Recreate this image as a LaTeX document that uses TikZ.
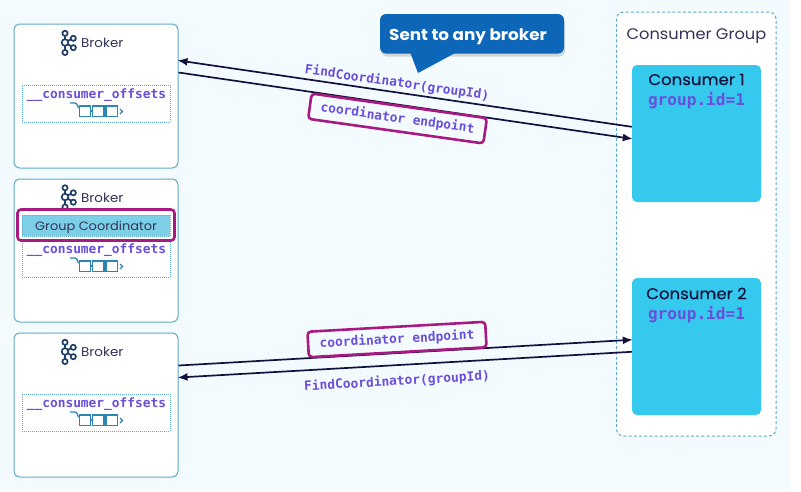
\documentclass[tikz,border=0pt]{standalone}
\usepackage{fontspec}
\setmainfont{Poppins}[FakeStretch=1.06]
\newfontfamily\heavyfont{Poppins}[FakeStretch=1.06,FakeBold=0.35]
\newfontfamily\codefont{DejaVu Sans Mono}
\usetikzlibrary{shadows,calc,arrows.meta}
\definecolor{pagebg}{HTML}{F4FBFF}
\definecolor{edge}{HTML}{5FA9C9}
\definecolor{iconblue}{HTML}{2B86B3}
\definecolor{logoblue}{HTML}{1F3F66}
\definecolor{inktxt}{HTML}{33335A}
\definecolor{navy}{HTML}{12123C}
\definecolor{violet}{HTML}{6A4FDC}
\definecolor{magentaedge}{HTML}{A81A82}
\definecolor{coordfill}{HTML}{7CCFE6}
\definecolor{consumerfill}{HTML}{36C9EE}
\definecolor{calloutblue}{HTML}{0E66B8}
\tikzset{
  x=1pt,y=-1pt,
  brokerbox/.style={draw=edge,line width=1pt,fill=white,rounded corners=6pt,minimum width=164pt,minimum height=144pt,inner sep=0pt},
  offsetbox/.style={draw=edge,line width=.7pt,dash pattern=on 1pt off 1pt,fill=white,minimum width=148pt,minimum height=37pt,inner sep=0pt},
  brokertxt/.style={text=inktxt,font=\fontsize{12.7}{14}\selectfont,inner sep=0pt},
  codetxt/.style={text=violet,font=\codefont\bfseries\fontsize{12.87}{14}\selectfont,inner sep=0pt},
  bigcode/.style={text=violet,font=\codefont\bfseries\fontsize{16.1}{18}\selectfont,inner sep=0pt},
  consumerbox/.style={fill=consumerfill,rounded corners=5pt,minimum width=129pt,minimum height=137pt,inner sep=0pt},
  consumertxt/.style={text=navy,font=\heavyfont\fontsize{15.6}{17}\selectfont,inner sep=0pt},
  highlight/.style={draw=magentaedge,line width=2.6pt,rounded corners=3.5pt,inner sep=0pt},
  flow/.style={draw=navy,line width=1.7pt},
  flowarrow/.style={flow,-{Latex[length=10pt,width=8pt]},shorten >=-1pt},
}
\newcommand{\kafkalogo}[2]{%
  \begin{scope}[shift={(#1,#2)},draw=logoblue,line width=1.7pt]
    \draw (0,-9)--(0,9) (0,0)--(8.3,-4.5) (0,0)--(8.3,5);
    \draw[fill=white] (0,-9.2) circle (2.6pt) (0,0) circle (3.3pt) (0,10) circle (2.6pt) (8.3,-4.2) circle (2.6pt) (8.3,5.2) circle (2.6pt);
  \end{scope}}
\newcommand{\queueicon}[2]{%
  \begin{scope}[shift={(#1,#2)},draw=iconblue,line width=1.3pt]
    \draw (-26,-8) -- (-21,-8) .. controls (-18,-8) and (-19,-3) .. (-16.5,-3);
    \draw[fill=white] (-16.7,-5) rectangle (-5.3,5.5);
    \draw[fill=white] (-3.3,-5) rectangle (8,5.5);
    \draw[fill=white] (10,-5) rectangle (21.3,5.5);
    \draw (-5.3,0)--(-3.3,0) (8,0)--(10,0);
    \draw (24,-2)--(26.5,0.5)--(24,3);
  \end{scope}}
\begin{document}
\begin{tikzpicture}
\useasboundingbox (0,0) rectangle (801,491);
\fill[pagebg] (0,0) rectangle (790,489);

% brokers
\node[brokerbox] (b1) at (96,96) {};
\node[brokerbox,minimum height=143pt] (b2) at (96,250.5) {};
\node[brokerbox] (b3) at (96,405) {};

\kafkalogo{65}{42.5}
\kafkalogo{65}{197}
\kafkalogo{65}{351.5}
\node[brokertxt,anchor=west] (b1t) at (81,43) {Broker};
\node[brokertxt,anchor=west] (b2t) at (81,197.5) {Broker};
\node[brokertxt,anchor=west] (b3t) at (81,352) {Broker};

% offset topics
\node[offsetbox] (o1) at (96,103.5) {};
\node[offsetbox] (o2) at (96,258.5) {};
\node[offsetbox] (o3) at (96,412.5) {};
\node[codetxt] (o1t) at (96.5,95.5) {\_\_consumer\_offsets};
\node[codetxt] (o2t) at (96.5,250.5) {\_\_consumer\_offsets};
\node[codetxt] (o3t) at (96.5,404.5) {\_\_consumer\_offsets};
\queueicon{96}{111}
\queueicon{96}{266}
\queueicon{96}{420}

% group coordinator
\node[draw=edge,line width=.7pt,dash pattern=on 1pt off 1pt,fill=coordfill,minimum width=148pt,minimum height=21pt,inner sep=0pt] (gc) at (96,225.5) {};
\node[text=inktxt,font=\fontsize{12.2}{14}\selectfont,inner sep=0pt] (gct) at (96,227) {Group Coordinator};
\node[highlight,minimum width=157pt,minimum height=31pt] (gch) at (96,225) {};

% consumer group
\node[draw=edge,line width=1pt,dash pattern=on 3pt off 2.2pt,fill=white,rounded corners=7pt,minimum width=159.5pt,minimum height=424pt,inner sep=0pt] (cg) at (696.3,224) {};
\node[text=inktxt,font=\fontsize{15.3}{17}\selectfont,inner sep=0pt] (cgt) at (696.5,36.5) {Consumer Group};
\node[consumerbox] (c1) at (696.5,133.5) {};
\node[consumerbox] (c2) at (696.5,346.5) {};
\node[consumertxt] (c1t) at (696.5,79.5) {Consumer 1};
\node[consumertxt] (c2t) at (696.5,293.5) {Consumer 2};
\node[bigcode] (c1g) at (696.5,101) {group.id=1};
\node[bigcode] (c2g) at (696.5,315) {group.id=1};

% connector ends on the boxes
\coordinate (b1up) at ($(b1.north east)+(0,37)$);
\coordinate (b1lo) at ($(b1.north east)+(0,49)$);
\coordinate (b3up) at ($(b3.north east)+(0,33)$);
\coordinate (b3lo) at ($(b3.north east)+(0,45)$);
\coordinate (c1up) at ($(c1.north west)+(0,62)$);
\coordinate (c1lo) at ($(c1.north west)+(0,74)$);
\coordinate (c2up) at ($(c2.north west)+(0,62)$);
\coordinate (c2lo) at ($(c2.north west)+(0,74)$);

\draw[flowarrow] (c1up) -- (b1up);
\draw[flowarrow] (b1lo) -- (c1lo);
\draw[flowarrow] (b3up) -- (c2up);
\draw[flowarrow] (c2lo) -- (b3lo);

% labels
\node[codetxt,rotate=-8.2] (fc1) at (397,83) {FindCoordinator(groupId)};
\node[codetxt,rotate=3.3] (fc2) at (397,381.5) {FindCoordinator(groupId)};
\node[highlight,fill=pagebg,rotate=-8,minimum width=177pt,minimum height=25.5pt,text=violet,font=\codefont\bfseries\fontsize{12.87}{14}\selectfont] (ce1) at (397.5,118.5) {coordinator endpoint};
\node[highlight,fill=pagebg,rotate=3.2,minimum width=178pt,minimum height=25.5pt,text=violet,font=\codefont\bfseries\fontsize{12.87}{14}\selectfont] (ce2) at (397,339.5) {coordinator endpoint};

% callout
\path[fill=calloutblue,rounded corners=6pt,drop shadow={shadow xshift=1pt,shadow yshift=-3pt,opacity=.25,fill=black!60}]
  (380,14) -- (564,14) -- (564,53.5) -- (380,53.5) -- cycle;
\fill[calloutblue] (410,52) -- (418,73) -- (457,52) -- cycle;
\node[text=white,font=\bfseries\fontsize{15.85}{17}\selectfont,inner sep=0pt] (call) at (468,37) {Sent to any broker};
\end{tikzpicture}
\end{document}
